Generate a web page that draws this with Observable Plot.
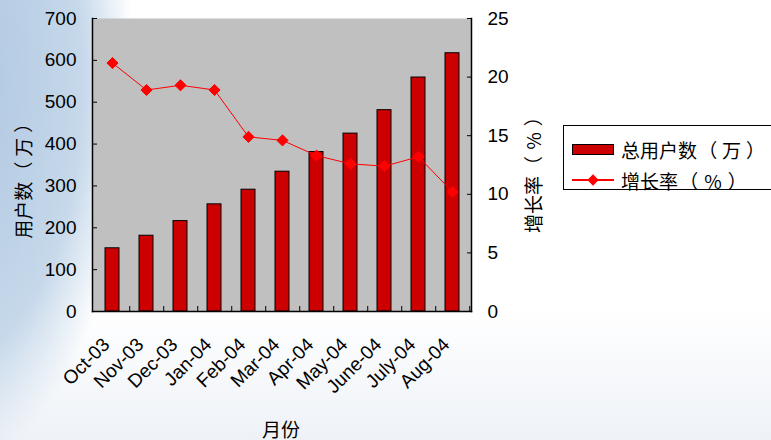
<!DOCTYPE html>
<html><head><meta charset="utf-8">
<script src="https://cdn.jsdelivr.net/npm/d3@7"></script>
<script src="https://cdn.jsdelivr.net/npm/@observablehq/plot@0.6"></script>
<style>
html,body{margin:0;padding:0}
body{width:771px;height:440px;overflow:hidden;position:relative;
 background:
  radial-gradient(ellipse 260px 520px at -60px 80px, #a9c3df 0%, #c6d8ea 55%, rgba(255,255,255,0) 75%),
  linear-gradient(to bottom, #ffffff 0%, #ffffff 70%, #eef2f7 100%);
 font-family:"Liberation Sans",Arial,"Noto Sans CJK SC",sans-serif;}
#chart{position:absolute;left:0;top:0}
.cjk{font-family:"Noto Sans CJK SC","Liberation Sans",sans-serif;color:#000;white-space:nowrap}
.pl{padding:0 0.26em 0 0.06em}
.pr{padding:0 0.02em 0 0.26em}
.pc{padding:0 0.06em}
#legend{position:absolute;left:563px;top:125px;width:210px;height:63px;border:1px solid #000;border-right:none;background:#fff;font-size:19px}
.row{position:absolute;left:8px;height:24px;display:flex;align-items:center}
.sw{width:40px;height:9px;background:#cc0000;border:1px solid #000;margin-right:7px}
.ln{width:42px;height:1.5px;background:#ff0000;position:relative;margin-right:7px}
.ln:after{content:"";position:absolute;left:17px;top:-3.5px;width:8px;height:8px;background:#ff0000;transform:rotate(45deg)}
.title{position:absolute;font-size:19px;line-height:1;transform:translate(-50%,-50%)}
.rot{transform:translate(-50%,-50%) rotate(-90deg)}
</style></head>
<body>
<div id="chart"></div>
<div class="cjk title" style="left:281px;top:428px">月份</div>
<div class="cjk title rot" style="left:22px;top:176px">用户数<span class="pl">（</span>万<span class="pr">）</span></div>
<div class="cjk title rot" style="left:532px;top:170px">增长率<span class="pl">（</span><span class="pc">%</span><span class="pr">）</span></div>
<div id="legend" class="cjk">
 <div class="row" style="top:11px"><div class="sw"></div><span>总用户数<span class="pl">（</span>万<span class="pr">）</span></span></div>
 <div class="row" style="top:42px"><div class="ln"></div><span>增长率<span class="pl">（</span><span class="pc">%</span><span class="pr">）</span></span></div>
</div>
<script>
const months = ["Oct-03","Nov-03","Dec-03","Jan-04","Feb-04","Mar-04","Apr-04","May-04","June-04","July-04","Aug-04"];
const users = [151, 181, 216, 256, 291, 334, 381, 425, 481, 559, 617];
const rates = [21.2, 18.9, 19.3, 18.9, 14.9, 14.6, 13.3, 12.6, 12.4, 13.2, 10.2];
const userTicks = [0, 100, 200, 300, 400, 500, 600, 700];
const rateTicks = [0, 5, 10, 15, 20, 25];
const k = 700 / 25;
const data = months.map((m, i) => ({month: m, users: users[i], rate: rates[i]}));
const W = 771, ML = 92, MR = 300;
const halfStep = (W - ML - MR) / months.length / 2;

const chart = Plot.plot({
  width: W, height: 440,
  marginLeft: ML, marginRight: MR, marginTop: 18, marginBottom: 129,
  style: {background: "transparent", fontFamily: "'Liberation Sans', Arial, sans-serif", fontSize: "19px", color: "#000", overflow: "visible"},
  x: {domain: months, paddingInner: 0.6, paddingOuter: 0.3, label: null},
  y: {domain: [0, 700], label: null},
  marks: [
    Plot.frame({fill: "#c0c0c0", stroke: null}),
    Plot.barY(data, {x: "month", y: "users", fill: "#cc0000", stroke: "#000", strokeWidth: 1}),
    Plot.line(data, {x: "month", y: d => d.rate * k, stroke: "#ff0000", strokeWidth: 1}),
    Plot.dot(data, {x: "month", y: d => d.rate * k, symbol: "diamond2", fill: "#ff0000", stroke: "#ff0000", strokeWidth: 1, r: 5}),
    Plot.frame({anchor: "left", stroke: "#000", strokeWidth: 1.5}),
    Plot.frame({anchor: "right", stroke: "#000", strokeWidth: 1.5}),
    Plot.frame({anchor: "bottom", stroke: "#000", strokeWidth: 1.5}),
    Plot.axisY({anchor: "left", ticks: userTicks, tickSize: 0, tickPadding: 16, fontSize: 19, label: null}),
    Plot.axisY({anchor: "left", ticks: userTicks, tickSize: 5, dx: 5, text: null, label: null}),
    Plot.axisY({anchor: "right", ticks: rateTicks.map(v => v * k), tickFormat: d => Math.round(d / k), tickSize: 0, tickPadding: 16, fontSize: 19, label: null}),
    Plot.axisY({anchor: "right", ticks: rateTicks.map(v => v * k), tickSize: 5, dx: -5, text: null, label: null}),
    Plot.axisX({tickSize: 5, dx: halfStep, dy: -5, text: null, label: null}),
    Plot.axisX({tickRotate: -45, tickSize: 0, tickPadding: 30, dx: -6, fontSize: 19, label: null})
  ]
});
document.getElementById("chart").appendChild(chart);
</script>
</body></html>
